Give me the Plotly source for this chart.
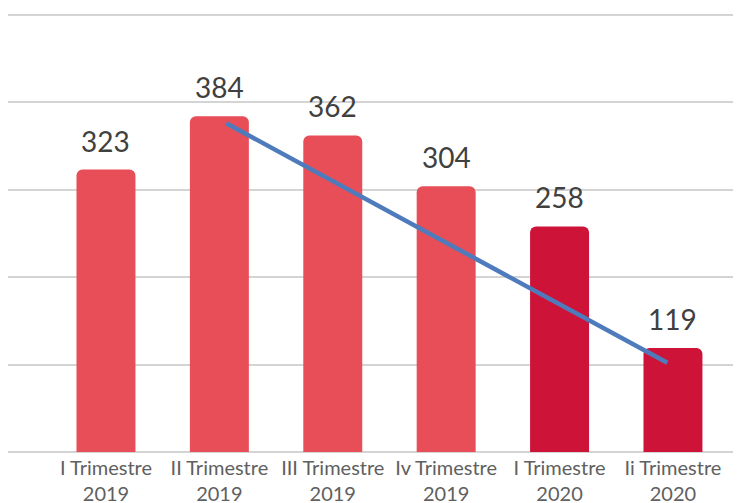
import plotly.graph_objects as go

categories = ["I Trimestre<br>2019", "II Trimestre<br>2019", "III Trimestre<br>2019",
              "Iv Trimestre<br>2019", "I Trimestre<br>2020", "Ii Trimestre<br>2020"]
values = [323, 384, 362, 304, 258, 119]
bar_colors = ["#E84E57", "#E84E57", "#E84E57", "#E84E57", "#CE1339", "#CE1339"]
trend_x = [1.06, 4.95]
trend_y = [376, 102]
y_ticks = [0, 100, 200, 300, 400, 500]

xpos = list(range(len(categories)))

fig = go.Figure()
fig.add_trace(go.Bar(
    x=xpos, y=values, width=0.52,
    marker=dict(color=bar_colors, line=dict(width=0), cornerradius=6),
    hoverinfo="skip",
))
fig.add_trace(go.Scatter(
    x=trend_x, y=trend_y, mode="lines",
    line=dict(color="#4E7BBC", width=4.5),
    hoverinfo="skip",
))
for x, v in zip(xpos, values):
    fig.add_annotation(x=x, y=v, text=str(v), showarrow=False,
                       yanchor="bottom", yshift=10,
                       font=dict(family="Lato", size=28, color="#404040"))

fig.update_layout(
    width=733, height=495,
    margin=dict(l=0, r=0, t=5, b=51, autoexpand=False),
    paper_bgcolor="white", plot_bgcolor="white",
    showlegend=False,
    xaxis=dict(range=[-0.864, 5.6], tickvals=xpos, ticktext=categories,
               showgrid=False, zeroline=False, showline=False, ticks="",
               automargin=False, ticklabelstandoff=2,
               tickfont=dict(family="Lato", size=20, color="#606060")),
    yaxis=dict(range=[0, 502], tickvals=y_ticks, showticklabels=False,
               showgrid=True, gridcolor="#d4d4d4", gridwidth=2,
               zeroline=True, zerolinecolor="#d4d4d4", zerolinewidth=2),
)
fig.write_html("out.html")
